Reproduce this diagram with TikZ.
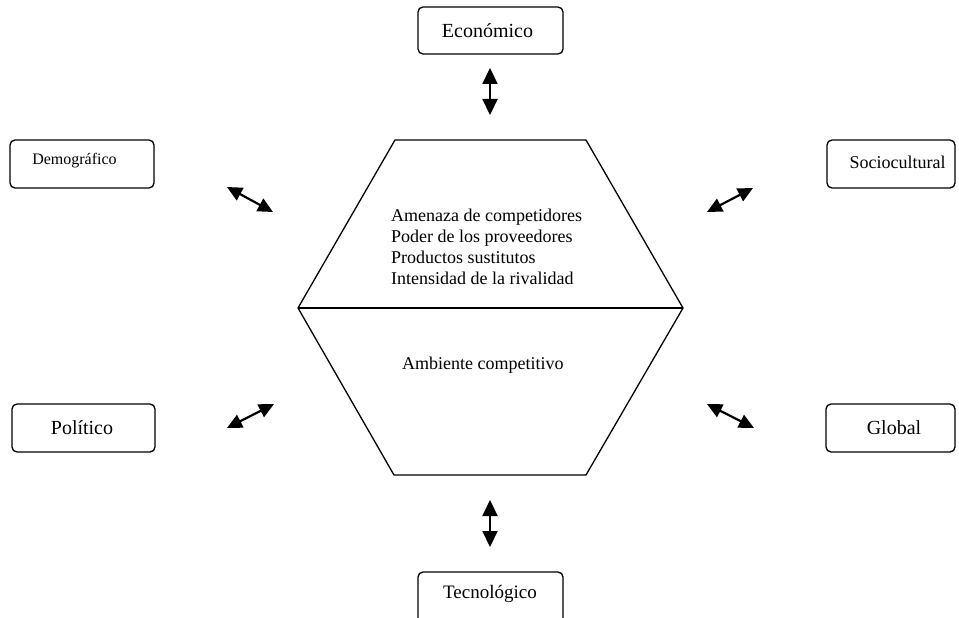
\documentclass[tikz,border=0pt]{standalone}
\usepackage{fontspec}
\setmainfont{Liberation Serif}
\usetikzlibrary{arrows.meta}

\tikzset{
  factorbox/.style={draw, line width=1.3pt, rounded corners=5pt, inner sep=0pt},
  lbl/.style={inner sep=0pt, anchor=center},
  hexline/.style={line width=1.3pt, line join=miter},
  link/.style={line width=2.2pt,
    {Triangle[length=16pt,width=15pt]}-{Triangle[length=16pt,width=15pt]}},
  dlink/.style={line width=2.2pt,
    {Triangle[length=15pt,width=14pt]}-{Triangle[length=15pt,width=14pt]}},
}

\begin{document}
\begin{tikzpicture}[x=1pt,y=-1pt]
  \useasboundingbox (0,0) rectangle (959,618);
  \clip (0,0) rectangle (959,618);

  % central hexagon, split into two halves
  \coordinate (tl) at (395,140);
  \coordinate (tr) at (586,140);
  \coordinate (mr) at (683,308);
  \coordinate (br) at (586,475);
  \coordinate (bl) at (394,475);
  \coordinate (ml) at (298,308);
  \draw[hexline] (tl) -- (tr) -- (mr) -- (br) -- (bl) -- (ml) -- cycle;
  \draw[hexline] (ml) -- (mr);

  \node[lbl, anchor=west, align=left, font=\fontsize{18}{21}\selectfont]
    (forces) at (391,247)
    {Amenaza de competidores\\Poder de los proveedores\\Productos sustitutos\\Intensidad de la rivalidad};
  \node[lbl, anchor=base west, font=\fontsize{18}{21}\selectfont]
    (ambiente) at (402,369) {Ambiente competitivo};

  % surrounding factor boxes
  \node[factorbox, minimum width=145pt, minimum height=47pt] (eco) at (490.5,30.5) {};
  \node[lbl, font=\fontsize{20}{24}\selectfont] (ecot) at (487.5,31) {Económico};

  \node[factorbox, minimum width=144pt, minimum height=48pt] (dem) at (82,164) {};
  \node[lbl, font=\fontsize{16}{19}\selectfont] (demt) at (74.5,161) {Demográfico};

  \node[factorbox, minimum width=128pt, minimum height=48pt] (soc) at (891,164) {};
  \node[lbl, font=\fontsize{18}{22}\selectfont] (soct) at (897.5,162) {Sociocultural};

  \node[factorbox, minimum width=143pt, minimum height=48pt] (pol) at (83.5,428) {};
  \node[lbl, font=\fontsize{20}{24}\selectfont] (polt) at (82,428) {Político};

  \node[factorbox, minimum width=129pt, minimum height=48pt] (glo) at (890.5,428) {};
  \node[lbl, font=\fontsize{20}{24}\selectfont] (glot) at (894,428) {Global};

  \node[factorbox, minimum width=145pt, minimum height=53pt] (tec) at (490.5,598.5) {};
  \node[lbl, font=\fontsize{19}{23}\selectfont] (tect) at (490,594) {Tecnológico};

  % two-way influence arrows
  \coordinate (ecoA) at (490,68);  \coordinate (ecoB) at (490,115);
  \coordinate (tecA) at (490,500); \coordinate (tecB) at (490,547);
  \coordinate (demA) at (227,187); \coordinate (demB) at (273,212);
  \coordinate (socA) at (707,212); \coordinate (socB) at (753,188);
  \coordinate (polA) at (227,428); \coordinate (polB) at (274,404);
  \coordinate (gloA) at (707,404); \coordinate (gloB) at (754,428);

  \draw[link] (ecoA) -- (ecoB);
  \draw[link] (tecA) -- (tecB);
  \draw[dlink] (demA) -- (demB);
  \draw[dlink] (socA) -- (socB);
  \draw[dlink] (polA) -- (polB);
  \draw[dlink] (gloA) -- (gloB);
\end{tikzpicture}
\end{document}
